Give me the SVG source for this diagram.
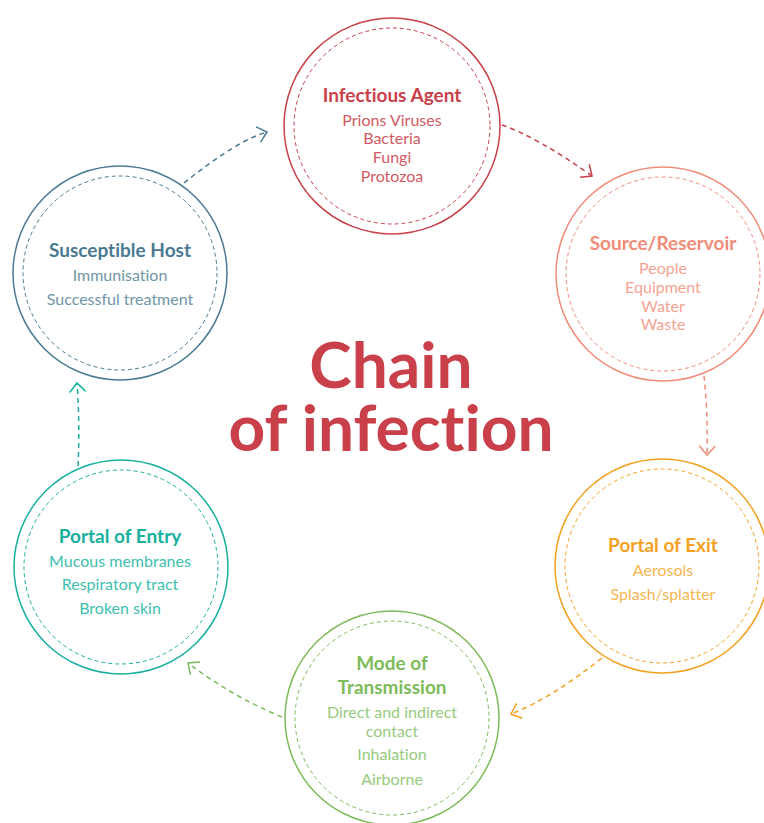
<svg xmlns="http://www.w3.org/2000/svg" width="764" height="823" viewBox="0 0 764 823">
  <style>
    text { font-family: Lato, "Open Sans", "Liberation Sans", sans-serif; text-anchor: middle; font-variant-ligatures: none; }
    .title { font-size: 19px; font-weight: 700; }
    .body { font-size: 16px; font-weight: 400; }
    .ring { fill: none; stroke-width: 1.5; }
    .inner { fill: none; stroke-width: 1; stroke-dasharray: 4 3; }
    .link { fill: none; stroke-width: 1.5; stroke-dasharray: 5 4; }
    .big { font-size: 64px; font-weight: 700; fill: #C9404A; }
  </style>
  <defs>
    <marker id="head-host" viewBox="-12 -10 14 20" markerWidth="14" markerHeight="20" refX="0" refY="0" orient="auto" markerUnits="userSpaceOnUse">
      <path d="M -9 -8 L 0 0 L -9 8" fill="none" stroke="#4A7A92" stroke-width="1.5"/>
    </marker>
    <marker id="head-agent" viewBox="-12 -10 14 20" markerWidth="14" markerHeight="20" refX="0" refY="0" orient="auto" markerUnits="userSpaceOnUse">
      <path d="M -9 -8 L 0 0 L -9 8" fill="none" stroke="#C9404A" stroke-width="1.5"/>
    </marker>
    <marker id="head-source" viewBox="-12 -10 14 20" markerWidth="14" markerHeight="20" refX="0" refY="0" orient="auto" markerUnits="userSpaceOnUse">
      <path d="M -9 -8 L 0 0 L -9 8" fill="none" stroke="#F08C78" stroke-width="1.5"/>
    </marker>
    <marker id="head-exit" viewBox="-12 -10 14 20" markerWidth="14" markerHeight="20" refX="0" refY="0" orient="auto" markerUnits="userSpaceOnUse">
      <path d="M -9 -8 L 0 0 L -9 8" fill="none" stroke="#F5A11F" stroke-width="1.5"/>
    </marker>
    <marker id="head-mode" viewBox="-12 -10 14 20" markerWidth="14" markerHeight="20" refX="0" refY="0" orient="auto" markerUnits="userSpaceOnUse">
      <path d="M -9 -8 L 0 0 L -9 8" fill="none" stroke="#7DBB5A" stroke-width="1.5"/>
    </marker>
    <marker id="head-entry" viewBox="-12 -10 14 20" markerWidth="14" markerHeight="20" refX="0" refY="0" orient="auto" markerUnits="userSpaceOnUse">
      <path d="M -9 -8 L 0 0 L -9 8" fill="none" stroke="#18B09E" stroke-width="1.5"/>
    </marker>
  </defs>

  <rect width="764" height="823" fill="#FFFFFF"/>

  <!-- central heading, two lines in one text block -->
  <g id="heading">
    <text class="big"><tspan x="391" y="388">Chain</tspan><tspan x="391" y="451">of infection</tspan></text>
  </g>

  <!-- dashed curved connectors between the stages -->
  <g id="connectors">
    <path class="link" stroke="#4A7A92" d="M 184 183 Q 236 141 267 132" marker-end="url(#head-host)"/>
    <path class="link" stroke="#C9404A" d="M 502 125 Q 537 137 592 176" marker-end="url(#head-agent)"/>
    <path class="link" stroke="#F08C78" d="M 704 376 Q 708 412 707 455" marker-end="url(#head-source)"/>
    <path class="link" stroke="#F5A11F" d="M 602 658 Q 550 699 511 714" marker-end="url(#head-exit)"/>
    <path class="link" stroke="#7DBB5A" d="M 282 717 Q 233 697 188 663" marker-end="url(#head-mode)"/>
    <path class="link" stroke="#18B09E" d="M 78 466 Q 80 425 77 383" marker-end="url(#head-entry)"/>
  </g>

  <g id="infectious-agent">
    <circle class="ring" cx="392" cy="126" r="108" stroke="#C9404A"/>
    <circle class="inner" cx="392" cy="126" r="98" stroke="#C9404A"/>
    <text class="title" x="392" y="102" fill="#C9404A">Infectious Agent</text>
    <text class="body" x="392" y="126" fill="#D25A64">Prions Viruses</text>
    <text class="body" x="392" y="144" fill="#D25A64">Bacteria</text>
    <text class="body" x="392" y="163" fill="#D25A64">Fungi</text>
    <text class="body" x="392" y="182" fill="#D25A64">Protozoa</text>
  </g>

  <g id="source-reservoir">
    <circle class="ring" cx="663" cy="274" r="107" stroke="#F08C78"/>
    <circle class="inner" cx="663" cy="274" r="97" stroke="#F08C78"/>
    <text class="title" x="663" y="250" fill="#F08C78">Source/Reservoir</text>
    <text class="body" x="663" y="274" fill="#F4A393">People</text>
    <text class="body" x="663" y="293" fill="#F4A393">Equipment</text>
    <text class="body" x="663" y="312" fill="#F4A393">Water</text>
    <text class="body" x="663" y="330" fill="#F4A393">Waste</text>
  </g>

  <g id="portal-of-exit">
    <circle class="ring" cx="662" cy="566" r="107" stroke="#F5A11F"/>
    <circle class="inner" cx="662" cy="566" r="97" stroke="#F5A11F"/>
    <text class="title" x="663" y="552" fill="#F5A11F">Portal of Exit</text>
    <text class="body" x="663" y="576" fill="#F7B552">Aerosols</text>
    <text class="body" x="663" y="600" fill="#F7B552">Splash/splatter</text>
  </g>

  <g id="mode-of-transmission">
    <circle class="ring" cx="392" cy="718" r="107" stroke="#7DBB5A"/>
    <circle class="inner" cx="392" cy="718" r="97" stroke="#7DBB5A"/>
    <text class="title" x="392" y="670" fill="#7DBB5A">Mode of</text>
    <text class="title" x="392" y="694" fill="#7DBB5A">Transmission</text>
    <text class="body" x="392" y="718" fill="#97CA7D">Direct and indirect</text>
    <text class="body" x="392" y="737" fill="#97CA7D">contact</text>
    <text class="body" x="392" y="760" fill="#97CA7D">Inhalation</text>
    <text class="body" x="392" y="785" fill="#97CA7D">Airborne</text>
  </g>

  <g id="portal-of-entry">
    <circle class="ring" cx="121" cy="567" r="107" stroke="#18B09E"/>
    <circle class="inner" cx="121" cy="567" r="97" stroke="#18B09E"/>
    <text class="title" x="120" y="543" fill="#18B09E">Portal of Entry</text>
    <text class="body" x="120" y="567" fill="#3DBFAF">Mucous membranes</text>
    <text class="body" x="120" y="590" fill="#3DBFAF">Respiratory tract</text>
    <text class="body" x="120" y="614" fill="#3DBFAF">Broken skin</text>
  </g>

  <g id="susceptible-host">
    <circle class="ring" cx="120" cy="273" r="107" stroke="#4A7A92"/>
    <circle class="inner" cx="120" cy="273" r="97" stroke="#4A7A92"/>
    <text class="title" x="120" y="257" fill="#4A7A92">Susceptible Host</text>
    <text class="body" x="120" y="281" fill="#6F96A8">Immunisation</text>
    <text class="body" x="120" y="305" fill="#6F96A8">Successful treatment</text>
  </g>
</svg>
